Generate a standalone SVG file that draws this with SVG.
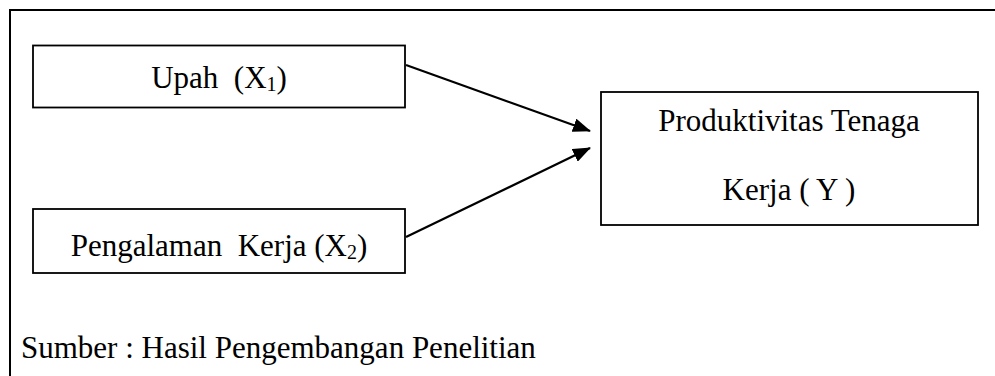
<svg xmlns="http://www.w3.org/2000/svg" width="995" height="376" viewBox="0 0 995 376">
  <style>
    .frame { fill: none; stroke: #000; stroke-width: 2; }
    .box { fill: #fff; stroke: #000; stroke-width: 1.8; }
    .lbl { font-family: "Liberation Serif", "Times New Roman", serif; font-size: 31px; fill: #000; white-space: pre; }
    .sub { font-size: 20px; }
    .edge { stroke: #000; stroke-width: 2.2; fill: none; marker-end: url(#head); }
  </style>
  <defs>
    <marker id="head" viewBox="0 0 18 14" refX="17" refY="7" markerWidth="18" markerHeight="14" markerUnits="userSpaceOnUse" orient="auto">
      <path d="M0,0 L18,7 L0,14 Z" fill="#000"/>
    </marker>
  </defs>
  <rect width="995" height="376" fill="#fff"/>

  <!-- open frame: top and left rules only -->
  <path class="frame" d="M10,377 L10,10 L996,10"/>

  <g id="upah">
    <rect class="box" x="33" y="45.5" width="372" height="62"/>
    <text class="lbl" x="219" y="88" text-anchor="middle" xml:space="preserve">Upah  (X<tspan class="sub" dy="3">1</tspan><tspan dy="-3">)</tspan></text>
  </g>

  <g id="pengalaman">
    <rect class="box" x="33" y="209" width="372" height="64"/>
    <text class="lbl" x="219" y="256" text-anchor="middle" xml:space="preserve">Pengalaman  Kerja (X<tspan class="sub" dy="3">2</tspan><tspan dy="-3">)</tspan></text>
  </g>

  <g id="produktivitas">
    <rect class="box" x="601" y="92" width="377" height="133"/>
    <text class="lbl" x="789" y="131" text-anchor="middle">Produktivitas Tenaga</text>
    <text class="lbl" x="789" y="200" text-anchor="middle">Kerja ( Y )</text>
  </g>

  <g id="connectors">
    <line class="edge" x1="406" y1="65" x2="590" y2="131"/>
    <line class="edge" x1="406" y1="237" x2="590" y2="148"/>
  </g>

  <text class="lbl" x="21" y="358">Sumber : Hasil Pengembangan Penelitian</text>
</svg>
